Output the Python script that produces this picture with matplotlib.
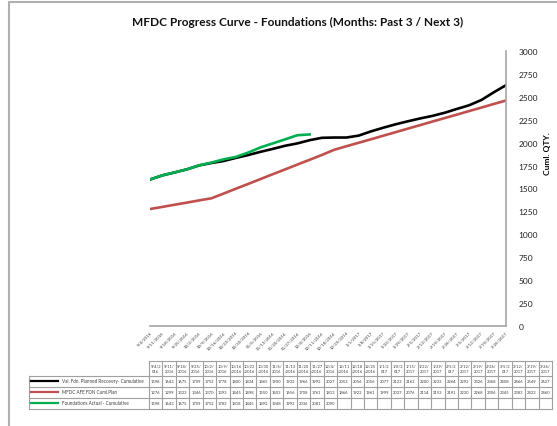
import matplotlib
matplotlib.use('Agg')
import matplotlib.pyplot as plt
import numpy as np

plt.rcParams['font.family'] = ['Lato', 'DejaVu Sans']

dates = ['9/4/2016', '9/11/2016', '9/18/2016', '9/25/2016', '10/2/2016', '10/9/2016',
         '10/16/2016', '10/23/2016', '10/30/2016', '11/6/2016', '11/13/2016', '11/20/2016',
         '11/27/2016', '12/4/2016', '12/11/2016', '12/18/2016', '12/25/2016', '1/1/2017',
         '1/8/2017', '1/15/2017', '1/22/2017', '1/29/2017', '2/5/2017', '2/12/2017',
         '2/19/2017', '2/26/2017', '3/5/2017', '3/12/2017', '3/19/2017', '3/26/2017']

recovery = [1598, 1643, 1675, 1709, 1752, 1778, 1800, 1834, 1865, 1900, 1932, 1966, 1992, 2027,
            2053, 2056, 2056, 2077, 2123, 2163, 2200, 2233, 2264, 2292, 2326, 2368, 2408, 2466,
            2549, 2627]
plan = [1276, 1299, 1323, 1346, 1370, 1393, 1445, 1498, 1550, 1603, 1656, 1708, 1761, 1813,
        1866, 1922, 1961, 1999, 2037, 2076, 2114, 2153, 2191, 2230, 2268, 2306, 2345, 2383,
        2422, 2460]
actual = [1598, 1643, 1675, 1709, 1752, 1783, 1818, 1845, 1892, 1948, 1992, 2036, 2081, 2090]

series_names = ['Val. Fdn. Planned Recovery- Cumulative', 'MFDC AFE FDN Cuml.Plan',
                'Foundations Actual - Cumulative']
series_colors = ['#000000', '#c0504d', '#00b050']
series_data = [recovery, plan, actual]

W, H = 557, 427
fig = plt.figure(figsize=(W / 100, H / 100), dpi=100)

# chart border + data table drawn in pixel coords
tab = fig.add_axes([0, 0, 1, 1])
tab.set_xlim(0, W)
tab.set_ylim(H, 0)
tab.axis('off')
tab.plot([9, 9, 560], [430, 3, 3], color='#b0b0b0', lw=1.5)

ax = fig.add_axes([150 / W, 1 - 327 / H, (506 - 150) / W, (327 - 52) / H])
x = np.arange(len(dates))
for data, c in zip(series_data, series_colors):
    ax.plot(x[:len(data)], data, color=c, lw=1.9)

ax.set_xlim(0, len(dates) - 1)
ax.set_ylim(0, 3000)
ax.set_yticks(np.arange(0, 3001, 250))
ax.yaxis.tick_right()
ax.yaxis.set_label_position('right')
ax.tick_params(axis='y', length=0, labelsize=6, pad=9, labelcolor='#222222')
ax.set_xticks(x)
ax.set_xticklabels(dates, rotation=45, ha='right', rotation_mode='anchor', fontsize=3.2,
                   color='#404040')
ax.tick_params(axis='x', length=0, pad=3)
for s in ['left', 'top']:
    ax.spines[s].set_visible(False)
for s in ['right', 'bottom']:
    ax.spines[s].set_color('#a6a6a6')
    ax.spines[s].set_linewidth(1.2)
ax.set_ylabel('Cuml. QTY.', fontsize=6, fontweight='bold', labelpad=4, y=0.63)

fig.text(298 / W, 1 - 22 / H, 'MFDC Progress Curve - Foundations (Months: Past 3 / Next 3)',
         ha='center', va='center', fontsize=8.6, fontweight='bold', color='#111111')

# data table
lab_l, col_l, col_r = 29, 149, 552
head_t, head_b = 362, 376.5
row_h = 11
cw = (col_r - col_l) / len(dates)
grid_c = '#a0a0a0'
n_rows = len(series_names)
tab_b = head_b + n_rows * row_h
tab.plot([col_l, col_r], [head_t, head_t], color=grid_c, lw=0.8)
for i in range(n_rows + 1):
    yy = head_b + i * row_h
    tab.plot([lab_l, col_r], [yy, yy], color=grid_c, lw=0.8)
tab.plot([lab_l, lab_l], [head_b, tab_b], color=grid_c, lw=0.8)
for j in range(len(dates) + 1):
    xx = col_l + j * cw
    tab.plot([xx, xx], [head_t, tab_b], color=grid_c, lw=0.8)
for j, d in enumerate(dates):
    tab.text(col_l + (j + 0.5) * cw, (head_t + head_b) / 2, d[:5] + '\n' + d[5:],
             ha='center', va='center', fontsize=2.9, color='#404040', linespacing=1.3)
for i, (name, c, data) in enumerate(zip(series_names, series_colors, series_data)):
    yc = head_b + (i + 0.5) * row_h
    tab.plot([31, 58], [yc, yc], color=c, lw=1.6)
    tab.text(62, yc, name, ha='left', va='center', fontsize=3.3, color='#404040')
    for j, v in enumerate(data):
        tab.text(col_l + (j + 0.5) * cw, yc, str(v), ha='center', va='center',
                 fontsize=3.0, color='#404040')

fig.savefig('out.png', dpi=100)
